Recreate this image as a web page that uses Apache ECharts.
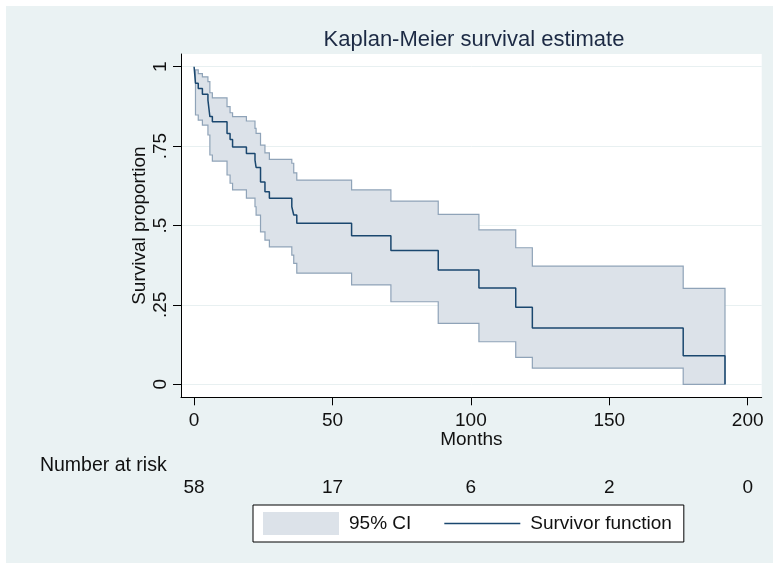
<!DOCTYPE html>
<html>
<head>
<meta charset="utf-8">
<script src="https://cdn.jsdelivr.net/npm/echarts@6/dist/echarts.min.js"></script>
<style>
html,body{margin:0;padding:0;background:#ffffff;}
#chart{width:777px;height:565px;}
</style>
</head>
<body>
<div id="chart"></div>
<script>
// ---- data ----
const timeMonths = [0, 0.5, 1.5, 3.0, 5.0, 5.7, 6.6, 11.9, 13.0, 13.9, 18.9, 22.0, 22.4, 24.0, 25.6, 27.2, 35.3, 36.0, 37.1, 56.9, 71.1, 88.2, 102.9, 116.2, 122.2, 176.7, 191.8];
const survival   = [1.0, 0.948, 0.931, 0.913, 0.895, 0.843, 0.827, 0.790, 0.771, 0.747, 0.727, 0.706, 0.683, 0.637, 0.606, 0.586, 0.559, 0.533, 0.507, 0.468, 0.421, 0.360, 0.303, 0.243, 0.177, 0.090, 0.0];
const ciUpper    = [null, 0.990, 0.978, 0.968, 0.953, 0.918, 0.902, 0.874, 0.855, 0.843, 0.829, 0.806, 0.790, 0.753, 0.729, 0.708, 0.696, 0.666, 0.643, 0.612, 0.577, 0.535, 0.486, 0.430, 0.372, 0.302, 0.302];
const ciLower    = [null, 0.848, 0.832, 0.816, 0.785, 0.722, 0.703, 0.659, 0.633, 0.612, 0.586, 0.559, 0.533, 0.480, 0.454, 0.433, 0.407, 0.381, 0.350, 0.313, 0.260, 0.192, 0.134, 0.085, 0.051, 0.0, 0.0];
const xTickValues = [0, 50, 100, 150, 200];
const riskCounts  = [58, 17, 6, 2, 0];
const yTickValues = [0, 0.25, 0.5, 0.75, 1];
const yTickLabels = ['0', '.25', '.5', '.75', '1'];
const titleText = 'Kaplan-Meier survival estimate';
const xTitle = 'Months';
const yTitle = 'Survival proportion';
const riskTitle = 'Number at risk';
const ciName = '95% CI';
const survName = 'Survivor function';

// ---- styles ----
const FONT = '"Liberation Sans", Arial, Helvetica, sans-serif';
const NAVY = '#1a476f';
const CI_FILL = '#dce2e9';
const CI_LINE = '#8fa3b8';
const BG = '#eaf2f3';
const TXT = '#111111';

const survData = timeMonths.map((t, i) => [t, survival[i]]);
const ciIdx = timeMonths.map((t, i) => i).filter(i => ciLower[i] != null);
const ciData = ciIdx.map(i => [timeMonths[i], ciLower[i], ciUpper[i]]);

function idxOf(arr, v) {
  for (let k = 0; k < arr.length; k++) if (Math.abs(arr[k] - v) < 1e-9) return k;
  return -1;
}

// CI band: one step-shaped polygon, every vertex placed through the axes' scales (api.coord)
function renderBand(params, api) {
  if (params.dataIndex !== 0) return null;
  const n = ciData.length;
  const upper = [], lower = [];
  for (let k = 0; k < n; k++) {
    const [t, lo, up] = ciData[k];
    if (k > 0) {
      upper.push(api.coord([t, ciData[k - 1][2]]));
      lower.push(api.coord([t, ciData[k - 1][1]]));
    }
    upper.push(api.coord([t, up]));
    lower.push(api.coord([t, lo]));
  }
  const pts = upper.concat(lower.reverse());
  return {
    type: 'polygon',
    shape: {points: pts},
    style: {fill: CI_FILL, stroke: CI_LINE, lineWidth: 1.2, lineJoin: 'miter'},
    silent: true
  };
}

const xMin = -4.73, xMax = 205.06;
const yMin = -0.0409, yMax = 1.040;

const chart = echarts.init(document.getElementById('chart'), null, {renderer: 'canvas'});
const option = {
  animation: false,
  backgroundColor: '#ffffff',
  textStyle: {fontFamily: FONT},
  graphic: [{
    type: 'rect', left: 6, top: 6, z: -10, silent: true,
    shape: {width: 767, height: 557},
    style: {fill: BG}
  }],
  title: {
    text: titleText, left: 474, top: 29, textAlign: 'center', padding: 0,
    textStyle: {fontFamily: FONT, fontSize: 22, fontWeight: 'normal', color: '#1c2a44'}
  },
  grid: {left: 181, right: 15.3, top: 54, bottom: 167.7, show: true, backgroundColor: '#ffffff', borderWidth: 0},
  legend: {
    left: 253, top: 505, orient: 'horizontal',
    padding: [7, 12, 7, 10], itemGap: 33, itemWidth: 76, itemHeight: 23,
    backgroundColor: '#ffffff', borderColor: '#000000', borderWidth: 1, borderRadius: 0,
    selectedMode: false, symbolKeepAspect: true,
    textStyle: {fontFamily: FONT, fontSize: 19, color: TXT, padding: [0, 0, 0, 5]},
    data: [
      {name: ciName, icon: 'rect', itemStyle: {color: CI_FILL, borderWidth: 0}},
      {name: survName, icon: 'path://M0,0H76V1.5H0Z', itemStyle: {color: NAVY, borderWidth: 0}}
    ]
  },
  xAxis: [
    {
      type: 'value', min: xMin, max: xMax, position: 'bottom',
      name: xTitle, nameLocation: 'middle', nameGap: 33, nameMoveOverlap: false,
      nameTextStyle: {fontFamily: FONT, fontSize: 19, color: TXT},
      axisLine: {show: true, onZero: false, lineStyle: {color: '#000000', width: 1}},
      axisTick: {show: true, length: 8, customValues: xTickValues, lineStyle: {color: '#000000', width: 1}},
      axisLabel: {customValues: xTickValues, margin: 14, fontFamily: FONT, fontSize: 19, color: TXT},
      splitLine: {show: false}
    },
    {
      type: 'value', min: xMin, max: xMax, position: 'bottom', offset: 68.3,
      name: riskTitle, nameLocation: 'start', nameGap: 14.3, nameMoveOverlap: false,
      nameTextStyle: {fontFamily: FONT, fontSize: 19.5, color: TXT},
      axisLine: {show: false, onZero: false},
      axisTick: {show: false, customValues: xTickValues},
      axisLabel: {
        customValues: xTickValues, margin: 12.8, fontFamily: FONT, fontSize: 19, color: TXT,
        formatter: v => String(riskCounts[idxOf(xTickValues, v)])
      },
      splitLine: {show: false}
    }
  ],
  yAxis: {
    type: 'value', min: yMin, max: yMax, position: 'left',
    name: yTitle, nameLocation: 'middle', nameGap: 32, nameMoveOverlap: false,
    nameTextStyle: {fontFamily: FONT, fontSize: 19, color: TXT},
    axisLine: {show: true, onZero: false, lineStyle: {color: '#000000', width: 1}},
    axisTick: {show: true, length: 8, customValues: yTickValues, lineStyle: {color: '#000000', width: 1}},
    axisLabel: {
      customValues: yTickValues, rotate: 90, margin: 10.5, fontFamily: FONT, fontSize: 19, color: TXT,
      formatter: v => yTickLabels[idxOf(yTickValues, v)]
    },
    splitLine: {show: true, lineStyle: {color: '#e8f0f1', width: 1}}
  },
  series: [
    {
      name: ciName, type: 'custom', xAxisIndex: 0, yAxisIndex: 0,
      data: ciData, renderItem: renderBand, silent: true, z: 2,
      encode: {x: 0, y: [1, 2]},
      itemStyle: {color: CI_FILL}
    },
    {
      name: survName, type: 'line', xAxisIndex: 0, yAxisIndex: 0,
      data: survData, step: 'end', symbol: 'none', silent: true, z: 4,
      itemStyle: {color: NAVY},
      lineStyle: {color: NAVY, width: 1.5}
    }
  ]
};
chart.setOption(option);
</script>
</body>
</html>
